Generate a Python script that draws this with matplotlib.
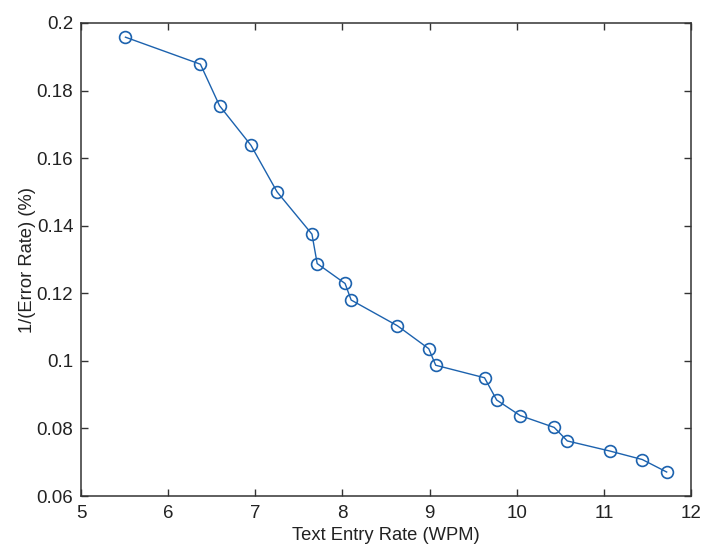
import matplotlib.pyplot as plt

# text entry rate (WPM) vs 1/(error rate)
wpm = [5.51, 6.37, 6.59, 6.95, 7.25, 7.65, 7.71, 8.03, 8.10, 8.63, 8.99,
       9.07, 9.63, 9.77, 10.04, 10.43, 10.58, 11.07, 11.44, 11.72]
inv_err = [0.1958, 0.1878, 0.1755, 0.1638, 0.1500, 0.1375, 0.1288, 0.1229,
           0.1180, 0.1104, 0.1036, 0.0987, 0.0950, 0.0884, 0.0838, 0.0803,
           0.0763, 0.0733, 0.0708, 0.0671]

plt.rcParams['font.family'] = ['Liberation Sans', 'DejaVu Sans']

fig = plt.figure(figsize=(7.02, 5.45), dpi=100)
ax = fig.add_axes([0.1154, 0.0899, 0.869, 0.8679])

ax.plot(wpm, inv_err, '-o', color='#1c62ae', lw=1.0, ms=8.5,
        mfc='none', mec='#1c62ae', mew=1.2)

ax.set_xlim(5, 12)
ax.set_ylim(0.06, 0.2)
ax.set_xticks(range(5, 13))
ax.set_yticks([0.06, 0.08, 0.1, 0.12, 0.14, 0.16, 0.18, 0.2])
ax.set_yticklabels(['0.06', '0.08', '0.1', '0.12', '0.14', '0.16', '0.18', '0.2'])
ax.tick_params(direction='in', top=True, right=True, length=5, width=1,
               labelsize=13.5, colors='#333333', labelcolor='#222222')
ax.tick_params(axis='x', pad=6.5)
ax.tick_params(axis='y', pad=5.5)
for s in ax.spines.values():
    s.set_linewidth(1.1)
    s.set_color('#333333')

ax.set_xlabel('Text Entry Rate (WPM)', fontsize=13.2, color='#222222', labelpad=3.5)
ax.set_ylabel('1/(Error Rate) (%)', fontsize=13.2, color='#222222', labelpad=0.5)

fig.savefig('out.png', dpi=100)
